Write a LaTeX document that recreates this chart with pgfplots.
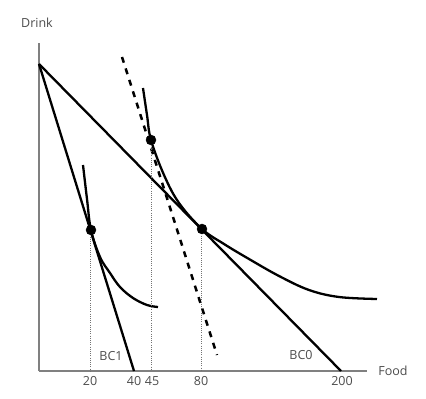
\documentclass[border=0pt]{standalone}
\usepackage{pgfplots}
\pgfplotsset{compat=1.18}
\usepackage{fontspec}
\setmainfont{Open Sans}
\begin{document}
\begin{tikzpicture}[x=1pt,y=1pt]
\path[use as bounding box] (-39,-28) rectangle (387,371);
\begin{axis}[
  at={(0,0)}, anchor=south west,
  scale only axis, width=328pt, height=328pt,
  xmin=0, xmax=328, ymin=0, ymax=328, enlargelimits=false,
  axis x line=bottom, axis y line=left,
  axis line style={-, draw=black!50, line width=1.3pt},
  xtick={51,95,113,162,303}, xticklabels={20,40,45,80,200},
  ytick=\empty, major tick length=0pt,
  xticklabel style={font=\fontsize{12.5}{15}\selectfont, text=black!70, yshift=-2pt},
  clip=false,
]
% budget constraints
\addplot[black, line width=2.3pt] coordinates {(0,307) (302,0)};
\addplot[black, line width=2.3pt] coordinates {(0,307) (95,0)};
% compensated budget line (dashed)
\addplot[black, line width=2.5pt, dash pattern=on 6pt off 6pt] coordinates {(83,314) (178,16)};
% indifference curves
\addplot[black, line width=2.3pt, smooth, tension=0.6] coordinates {
 (104,283) (108,256) (112,231) (125,196) (140,168) (163,142) (185,127) (210,112) (240,95) (270,81) (300,74) (338,72)};
\addplot[black, line width=2.3pt, smooth, tension=0.6] coordinates {
 (44,206) (48,172) (52,141) (61,114) (71,98) (81,84) (94,73) (108,66) (119,64)};
% dotted drop lines
\addplot[black!55, line width=0.9pt, dash pattern=on 1pt off 1.2pt] coordinates {(51,141) (51,0)};
\addplot[black!55, line width=0.9pt, dash pattern=on 1pt off 1.2pt] coordinates {(112,231) (112,0)};
\addplot[black!55, line width=0.9pt, dash pattern=on 1pt off 1.2pt] coordinates {(162,142) (162,0)};
% optimum points
\addplot[only marks, mark=*, mark size=5pt, black] coordinates {(52,141) (112,231) (163,142)};
% labels
\node[font=\fontsize{12.5}{15}\selectfont, text=black!70] at (axis cs:-2,348) {Drink};
\node[font=\fontsize{12.5}{15}\selectfont, text=black!70] at (axis cs:354,0) {Food};
\node[font=\fontsize{12.5}{15}\selectfont, text=black!70] at (axis cs:72,15) {BC1};
\node[font=\fontsize{12.5}{15}\selectfont, text=black!70] at (axis cs:262,16) {BC0};
\end{axis}
\end{tikzpicture}
\end{document}
